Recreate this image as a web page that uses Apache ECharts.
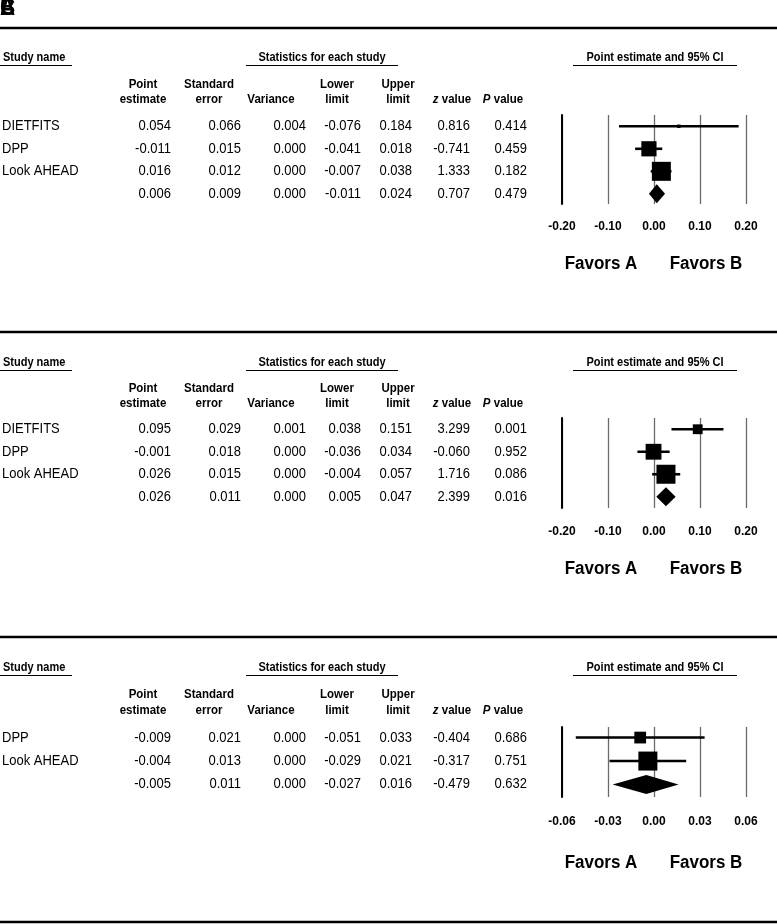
<!DOCTYPE html>
<html>
<head>
<meta charset="utf-8">
<script src="https://cdn.jsdelivr.net/npm/echarts@6/dist/echarts.min.js"></script>
<style>html,body{margin:0;padding:0;background:#fff}#c{width:777px;height:924px}</style>
</head>
<body>
<div id="c"></div>
<script>
// ---------- DATA ----------
const panelLetters = ['A', 'B', 'C'];
const columnHeaders = [['Point', 'estimate'], ['Standard', 'error'], ['', 'Variance'], ['Lower', 'limit'], ['Upper', 'limit'], ['', 'z value'], ['', 'P value']];

const studiesA = ['DIETFITS', 'DPP', 'Look AHEAD'];
const estA = [0.054, -0.011, 0.016];
const seA = [0.066, 0.015, 0.012];
const varA = [0.004, 0.000, 0.000];
const lowA = [-0.076, -0.041, -0.007];
const upA = [0.184, 0.018, 0.038];
const zA = [0.816, -0.741, 1.333];
const pA = [0.414, 0.459, 0.182];
const summaryA = [0.006, 0.009, 0.000, -0.011, 0.024, 0.707, 0.479];

const studiesB = ['DIETFITS', 'DPP', 'Look AHEAD'];
const estB = [0.095, -0.001, 0.026];
const seB = [0.029, 0.018, 0.015];
const varB = [0.001, 0.000, 0.000];
const lowB = [0.038, -0.036, -0.004];
const upB = [0.151, 0.034, 0.057];
const zB = [3.299, -0.060, 1.716];
const pB = [0.001, 0.952, 0.086];
const summaryB = [0.026, 0.011, 0.000, 0.005, 0.047, 2.399, 0.016];

const studiesC = ['DPP', 'Look AHEAD'];
const estC = [-0.009, -0.004];
const seC = [0.021, 0.013];
const varC = [0.000, 0.000];
const lowC = [-0.051, -0.029];
const upC = [0.033, 0.021];
const zC = [-0.404, -0.317];
const pC = [0.686, 0.751];
const summaryC = [-0.005, 0.011, 0.000, -0.027, 0.016, -0.479, 0.632];

const ticksAB = [-0.20, -0.10, 0.00, 0.10, 0.20];
const ticksC = [-0.06, -0.03, 0.00, 0.03, 0.06];

const panels = [
  { names: studiesA, cols: [estA, seA, varA, lowA, upA, zA, pA], summary: summaryA, ticks: ticksAB },
  { names: studiesB, cols: [estB, seB, varB, lowB, upB, zB, pB], summary: summaryB, ticks: ticksAB },
  { names: studiesC, cols: [estC, seC, varC, lowC, upC, zC, pC], summary: summaryC, ticks: ticksC }
];

// ---------- LAYOUT ----------
const FONT = "'Liberation Sans', Arial, Helvetica, sans-serif";
const SY = 1.1;
const layout = [
  { title: 58, h1: 85, h2: 100, top: 115, height: 89, ymin: 0.5, ymax: 4.45, margin: 17, favors: 264 },
  { title: 363, h1: 389, h2: 404, top: 418, height: 90, ymin: 0.5, ymax: 4.5, margin: 18, favors: 569 },
  { title: 668, h1: 695, h2: 711, top: 727, height: 70, ymin: 0.55, ymax: 3.53, margin: 19, favors: 863 }
];
const rules = [28, 332, 637, 922];
const valRight = [171, 241, 306, 361, 412, 470, 527];
const hdrCenter = [143, 209, 271, 337, 398, 452, 503];
const plotLeft = 562, plotWidth = 184;
const maxSquare = 19, diamondH = 19;

const chart = echarts.init(document.getElementById('c'), null, { renderer: 'canvas' });

const grids = [], xAxes = [], yAxes = [], series = [];
panels.forEach((pn, i) => {
  const L = layout[i];
  grids.push({ left: plotLeft, top: L.top, width: plotWidth, height: L.height });
  const t = pn.ticks;
  xAxes.push({
    gridIndex: i, type: 'value', min: t[0], max: t[t.length - 1], interval: t[1] - t[0],
    axisLine: { show: false, onZero: false }, axisTick: { show: false },
    splitLine: { show: true, showMinLine: true, showMaxLine: true, lineStyle: { color: '#6a6a6a', width: 1.3 } },
    axisLabel: {
      margin: L.margin, fontFamily: FONT, fontSize: 12, fontWeight: 'bold', color: '#000',
      formatter: v => (Math.abs(v) < 1e-9 ? 0 : v).toFixed(2)
    }
  });
  yAxes.push({
    gridIndex: i, type: 'value', inverse: true, min: L.ymin, max: L.ymax, position: 'left',
    axisLine: { show: true, onZero: false, lineStyle: { color: '#000', width: 2 } },
    axisTick: { show: false }, axisLabel: { show: false }, splitLine: { show: false }
  });
  const est = pn.cols[0], se = pn.cols[1], lo = pn.cols[3], hi = pn.cols[4];
  const minSE = Math.min.apply(null, se);
  // CI lines
  series.push({
    type: 'custom', xAxisIndex: i, yAxisIndex: i, silent: true,
    data: pn.names.map((n, k) => [lo[k], hi[k], k + 1]),
    encode: { x: [0, 1], y: 2 },
    renderItem: (params, api) => {
      const a = api.coord([api.value(0), api.value(2)]);
      const b = api.coord([api.value(1), api.value(2)]);
      return { type: 'line', shape: { x1: a[0], y1: a[1], x2: b[0], y2: b[1] }, style: { stroke: '#000', lineWidth: 2.6 } };
    }
  });
  // squares (size by inverse SE)
  series.push({
    type: 'scatter', xAxisIndex: i, yAxisIndex: i, silent: true,
    symbol: 'rect',
    data: pn.names.map((n, k) => ({ value: [est[k], k + 1], symbolSize: maxSquare * minSE / se[k] })),
    itemStyle: { color: '#000', opacity: 1 }
  });
  // summary diamond
  const s = pn.summary;
  series.push({
    type: 'custom', xAxisIndex: i, yAxisIndex: i, silent: true,
    data: [[s[3], s[0], s[4], pn.names.length + 1]],
    encode: { x: [0, 2], y: 3 },
    renderItem: (params, api) => {
      const y = api.value(3);
      const l = api.coord([api.value(0), y]);
      const c = api.coord([api.value(1), y]);
      const r = api.coord([api.value(2), y]);
      return {
        type: 'polygon',
        shape: { points: [[l[0], l[1]], [c[0], c[1] - diamondH / 2], [r[0], r[1]], [c[0], c[1] + diamondH / 2]] },
        style: { fill: '#000' }
      };
    }
  });
});

chart.setOption({
  animation: false,
  backgroundColor: '#fff',
  grid: grids, xAxis: xAxes, yAxis: yAxes, series: series
});

// ---------- TEXT / TABLE ----------
function txt(x, y, s, size, weight, align, extra) {
  const st = Object.assign({
    text: s, fontFamily: FONT, fontSize: size, fontWeight: weight || 'normal',
    fill: '#000', align: align || 'left', verticalAlign: 'middle'
  }, extra || {});
  return { type: 'text', x: x, y: y, scaleY: SY, silent: true, style: st };
}
function hline(x1, x2, y, w) {
  return { type: 'line', silent: true, shape: { x1: x1, y1: y, x2: x2, y2: y }, style: { stroke: '#000', lineWidth: w } };
}
const g = [];
rules.forEach(y => g.push(hline(0, 777, y, 2.6)));
panelLetters.forEach(l => g.push(txt(0, 9, l, 21, 'bold', 'left')));

const fmt = v => v.toFixed(3);
panels.forEach((pn, i) => {
  const L = layout[i];
  g.push(txt(3, L.title, 'Study name', 11, 'bold', 'left'));
  g.push(hline(0, 72, L.title + 7.5, 1.2));
  g.push(txt(322, L.title, 'Statistics for each study', 11, 'bold', 'center'));
  g.push(hline(246, 398, L.title + 7.5, 1.2));
  g.push(txt(655, L.title, 'Point estimate and 95% CI', 11, 'bold', 'center'));
  g.push(hline(573, 737, L.title + 7.5, 1.2));
  columnHeaders.forEach((h, c) => {
    if (h[0]) g.push(txt(hdrCenter[c], L.h1, h[0], 11.5, 'bold', 'center'));
    let second = h[1];
    if (second === 'z value' || second === 'P value') {
      const first = second.split(' ')[0];
      g.push(txt(hdrCenter[c], L.h2, '{i|' + first + '} value', 11.5, 'bold', 'center', {
        rich: { i: { fontStyle: 'italic', fontFamily: FONT, fontSize: 11.5, fontWeight: 'bold', fill: '#000' } }
      }));
    } else {
      g.push(txt(hdrCenter[c], L.h2, second, 11.5, 'bold', 'center'));
    }
  });
  const rowY = k => chart.convertToPixel({ gridIndex: i }, [0, k])[1];
  pn.names.forEach((n, k) => {
    const y = rowY(k + 1);
    g.push(txt(2, y, n, 13, 'normal', 'left'));
    pn.cols.forEach((col, c) => g.push(txt(valRight[c], y, fmt(col[k]), 13, 'normal', 'right')));
  });
  const ys = rowY(pn.names.length + 1);
  pn.summary.forEach((v, c) => g.push(txt(valRight[c], ys, fmt(v), 13, 'normal', 'right')));
  g.push(txt(601, L.favors, 'Favors A', 17, 'bold', 'center'));
  g.push(txt(706, L.favors, 'Favors B', 17, 'bold', 'center'));
});

chart.setOption({ graphic: g });
</script>
</body>
</html>
